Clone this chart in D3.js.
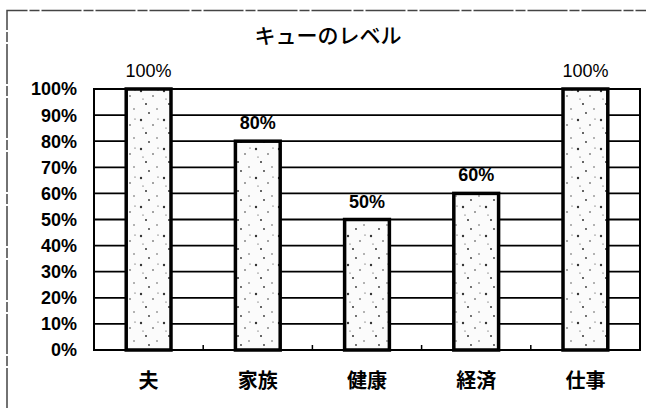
<!DOCTYPE html>
<html>
<head>
<meta charset="utf-8">
<script src="https://cdn.jsdelivr.net/npm/d3@7"></script>
<style>
  body { margin: 0; background: #fff; }
  svg text { font-family: "Liberation Sans", Arial, "Noto Sans CJK JP", sans-serif; fill: #000; }
  .cjk { font-family: "Noto Sans CJK JP", sans-serif; }
</style>
</head>
<body>
<svg class="graphic"></svg>
<script>
var categories = ["夫", "家族", "健康", "経済", "仕事"];
var values = [100, 80, 50, 60, 100];
var yTicks = [0, 10, 20, 30, 40, 50, 60, 70, 80, 90, 100];
var chartTitle = "キューのレベル";

var width = 646,
    height = 408,
    plot = {left: 94, right: 640, top: 89, bottom: 350};

var svg = d3.select(".graphic")
    .attr("width", width)
    .attr("height", height);

// speckled fill for the bars (fixed dot layout, not data)
var defs = svg.append("defs");
var speck = defs.append("pattern")
    .attr("id", "speck")
    .attr("patternUnits", "userSpaceOnUse")
    .attr("width", 23)
    .attr("height", 29);
speck.append("rect").attr("width", 23).attr("height", 29).attr("fill", "#fbfbfb");
[[3, 4, 1.2], [15, 9, 0.8], [8, 17, 1], [19, 22, 0.7], [11, 26, 0.9], [5, 12, 0.6], [20, 3, 0.6]].forEach(function(p) {
    speck.append("circle").attr("cx", p[0]).attr("cy", p[1]).attr("r", p[2]).attr("fill", "#333");
});

// chart frame (only top and left visible)
svg.append("path")
    .attr("d", "M7,408V10.5H646")
    .attr("fill", "none")
    .attr("stroke", "#444")
    .attr("stroke-width", 1.5)
    .attr("stroke-dasharray", "40,2,10,2");

var x = d3.scaleBand()
    .domain(categories)
    .range([plot.left, plot.right])
    .paddingInner(0.59)
    .paddingOuter(0.295);

var y = d3.scaleLinear()
    .domain([0, 100])
    .range([plot.bottom, plot.top]);

// gridlines
svg.append("g")
    .selectAll("line")
    .data(yTicks)
    .enter()
    .append("line")
    .attr("x1", plot.left)
    .attr("x2", plot.right)
    .attr("y1", function(d) { return y(d); })
    .attr("y2", function(d) { return y(d); })
    .attr("stroke", "#000")
    .attr("stroke-width", 1.8);

// plot border
svg.append("rect")
    .attr("x", plot.left)
    .attr("y", plot.top)
    .attr("width", plot.right - plot.left)
    .attr("height", plot.bottom - plot.top)
    .attr("fill", "none")
    .attr("stroke", "#000")
    .attr("stroke-width", 2);

// small category ticks on the baseline
var step = x.step();
svg.append("g")
    .selectAll("line")
    .data(categories.slice(1))
    .enter()
    .append("line")
    .attr("x1", function(d) { return x(d) - (step - x.bandwidth()) / 2; })
    .attr("x2", function(d) { return x(d) - (step - x.bandwidth()) / 2; })
    .attr("y1", plot.bottom)
    .attr("y2", plot.bottom - 5)
    .attr("stroke", "#000")
    .attr("stroke-width", 1.5);

// bars
svg.append("g")
    .selectAll("rect")
    .data(values)
    .enter()
    .append("rect")
    .attr("x", function(d, i) { return x(categories[i]); })
    .attr("y", function(d) { return y(d); })
    .attr("width", x.bandwidth())
    .attr("height", function(d) { return y(0) - y(d); })
    .attr("fill", "url(#speck)")
    .attr("stroke", "#000")
    .attr("stroke-width", 3.5);

// value labels
svg.append("g")
    .selectAll("text")
    .data(values)
    .enter()
    .append("text")
    .attr("x", function(d, i) { return x(categories[i]) + x.bandwidth() / 2; })
    .attr("y", function(d) { return y(d) - 12; })
    .attr("text-anchor", "middle")
    .style("font-size", "18px")
    .style("font-weight", function(d) { return d === 100 ? "normal" : "bold"; })
    .text(function(d) { return d + "%"; });

// y axis labels
svg.append("g")
    .selectAll("text")
    .data(yTicks)
    .enter()
    .append("text")
    .attr("x", 77)
    .attr("y", function(d) { return y(d); })
    .attr("dy", "0.36em")
    .attr("text-anchor", "end")
    .style("font-size", "18px")
    .style("font-weight", "bold")
    .text(function(d) { return d + "%"; });

// x axis labels
svg.append("g")
    .selectAll("text")
    .data(categories)
    .enter()
    .append("text")
    .attr("class", "cjk")
    .attr("x", function(d) { return x(d) + x.bandwidth() / 2; })
    .attr("y", 381)
    .attr("dy", "0.36em")
    .attr("text-anchor", "middle")
    .style("font-size", "20px")
    .style("font-weight", "bold")
    .text(function(d) { return d; });

// title
svg.append("text")
    .attr("class", "cjk")
    .attr("x", 328)
    .attr("y", 35)
    .attr("dy", "0.36em")
    .attr("text-anchor", "middle")
    .style("font-size", "21px")
    .style("font-weight", "500")
    .text(chartTitle);
</script>
</body>
</html>
